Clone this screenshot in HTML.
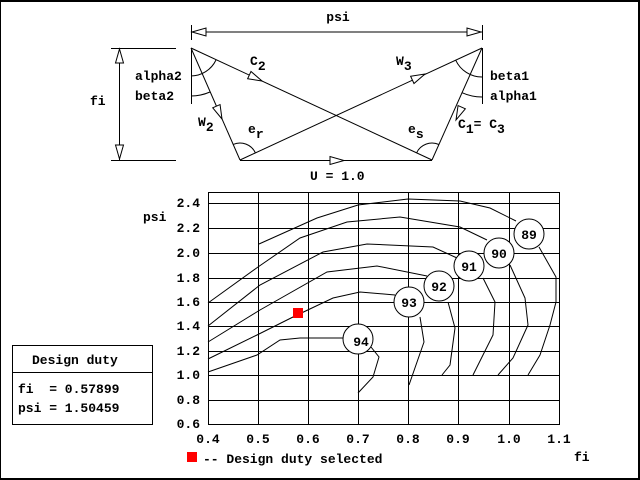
<!DOCTYPE html>
<html><head><meta charset="utf-8"><style>
html,body{margin:0;padding:0;background:#fff}
svg{display:block}
text{font-family:"Liberation Mono",monospace;font-weight:bold;font-size:13px;fill:#000;white-space:pre}
</style></head><body>
<svg id="s" width="640" height="480" viewBox="0 0 640 480" xmlns="http://www.w3.org/2000/svg" xml:space="preserve">
<rect x="0" y="0" width="640" height="480" fill="#fff"/>
<rect x="0" y="0" width="640" height="2" fill="#000"/>
<rect x="0" y="478" width="640" height="2" fill="#000"/>
<rect x="0" y="0" width="1" height="480" fill="#000"/>
<rect x="638" y="0" width="2" height="480" fill="#000"/>
<g stroke="#000" stroke-width="1" fill="none">
<line x1="191" y1="32" x2="482" y2="32"/>
<line x1="191.5" y1="25" x2="191.5" y2="40"/>
<line x1="482.5" y1="25" x2="482.5" y2="40"/>
<line x1="111" y1="48.5" x2="176" y2="48.5"/>
<line x1="111" y1="160.5" x2="176" y2="160.5"/>
<line x1="119.5" y1="48" x2="119.5" y2="160"/>
<line x1="191.5" y1="48" x2="191.5" y2="104"/>
<line x1="482.5" y1="48" x2="482.5" y2="104"/>
<line x1="191" y1="48" x2="240" y2="160"/>
<line x1="191" y1="48" x2="432" y2="160"/>
<line x1="482" y1="48" x2="240" y2="160"/>
<line x1="482" y1="48" x2="432" y2="160"/>
<line x1="240" y1="160.5" x2="432" y2="160.5"/>
<path d="M191,76 A28,28 0 0 0 216,60"/>
<path d="M191,96 A48,48 0 0 0 210,92"/>
<path d="M482,77 A29,29 0 0 1 455.7,60.2"/>
<path d="M482,97 A49,49 0 0 1 462,92.7"/>
<path d="M233.2,144.4 A17,17 0 0 1 255.4,152.9"/>
<path d="M416.6,152.8 A17,17 0 0 1 438.9,144.5"/>
</g>
<g id="arrows" stroke="#000" fill="#fff" stroke-width="1"></g>

<text x="338" y="21" text-anchor="middle">psi</text>
<text x="90" y="105">fi</text>
<text x="135" y="80">alpha2</text>
<text x="135" y="100">beta2</text>
<text x="490" y="80">beta1</text>
<text x="490" y="100">alpha1</text>
<text x="250" y="65">C<tspan dy="5">2</tspan></text>
<text x="396" y="65">W<tspan dy="5">3</tspan></text>
<text x="198" y="126">W<tspan dy="5">2</tspan></text>
<text x="248" y="133">e<tspan dy="5">r</tspan></text>
<text x="408" y="133">e<tspan dy="5">s</tspan></text>
<text x="458" y="128">C<tspan dy="5">1</tspan><tspan dy="-5">= C</tspan><tspan dy="5">3</tspan></text>
<text x="310" y="180">U = 1.0</text>

<g stroke="#000" stroke-width="1" fill="none">
<rect x="208.5" y="192.5" width="351" height="232"/>
<g id="grid"></g>
<polyline points="259,244 317,218 358,205 408,199 460,201 490,208 516,221"/>
<polyline points="539,247 556,277 556,302 550,325 540,355 528,375"/>
<polyline points="208,303 258,267 300,238 347,222 400,217 460,227 487,240"/>
<polyline points="510,265 525,298 528,325 513,358 498,375"/>
<polyline points="208,326 260,285 323,252 367,244 433,247 457,258"/>
<polyline points="483,278 495,302 493,335 473,375"/>
<polyline points="208,342 260,310 327,272 377,266 427,276"/>
<polyline points="448,302 455,328 450,365 442,375"/>
<polyline points="208,359 257,335 293,317 333,298 360,292 395,295"/>
<polyline points="420,317 424,342 409,385"/>
<polyline points="208,372 257,355 280,340 300,338 343,338"/>
<polyline points="371,347 379,357 373,377 358,393"/>
</g>
<g stroke="#000" fill="#fff">
<circle cx="529" cy="234" r="15"/>
<circle cx="499" cy="253" r="15"/>
<circle cx="469" cy="266" r="15"/>
<circle cx="439" cy="286" r="15"/>
<circle cx="409" cy="302" r="15"/>
<circle cx="358" cy="339" r="15"/>
</g>
<text x="529" y="239" text-anchor="middle">89</text>
<text x="499" y="258" text-anchor="middle">90</text>
<text x="469" y="271" text-anchor="middle">91</text>
<text x="439" y="291" text-anchor="middle">92</text>
<text x="409" y="307" text-anchor="middle">93</text>
<text x="361" y="346" text-anchor="middle">94</text>
<rect x="293" y="308" width="10" height="10" fill="#f00"/>

<g text-anchor="end">
<text x="200" y="207">2.4</text>
<text x="200" y="232">2.2</text>
<text x="200" y="257">2.0</text>
<text x="200" y="282">1.8</text>
<text x="200" y="306">1.6</text>
<text x="200" y="330">1.4</text>
<text x="200" y="355">1.2</text>
<text x="200" y="379">1.0</text>
<text x="200" y="404">0.8</text>
<text x="200" y="428">0.6</text>
</g>
<text x="143" y="221">psi</text>
<g text-anchor="middle">
<text x="208" y="443">0.4</text>
<text x="258" y="443">0.5</text>
<text x="308" y="443">0.6</text>
<text x="358" y="443">0.7</text>
<text x="408" y="443">0.8</text>
<text x="458" y="443">0.9</text>
<text x="509" y="443">1.0</text>
<text x="559" y="443">1.1</text>
</g>
<text x="574" y="461">fi</text>
<rect x="187" y="452" width="10" height="10" fill="#f00"/>
<text x="203" y="463">-- Design duty selected</text>

<rect x="12.5" y="345.5" width="140" height="79" fill="none" stroke="#000"/>
<line x1="12" y1="372.5" x2="152" y2="372.5" stroke="#000"/>
<text x="32" y="364">Design duty</text>
<text x="18" y="393">fi  = 0.57899</text>
<text x="18" y="412">psi = 1.50459</text>
</svg>
<script>
var ns="http://www.w3.org/2000/svg";
var g=document.getElementById('grid');
[258,308,358,408,458,509].forEach(function(x){var l=document.createElementNS(ns,'line');l.setAttribute('x1',x+.5);l.setAttribute('x2',x+.5);l.setAttribute('y1',192);l.setAttribute('y2',424);g.appendChild(l);});
[203,228,253,278,302,326,351,375,400].forEach(function(y){var l=document.createElementNS(ns,'line');l.setAttribute('y1',y+.5);l.setAttribute('y2',y+.5);l.setAttribute('x1',208);l.setAttribute('x2',559);g.appendChild(l);});
var a=document.getElementById('arrows');
function arr(tx,ty,dx,dy){var m=Math.hypot(dx,dy);dx/=m;dy/=m;var L=14,W=4;var bx=tx-dx*L,by=ty-dy*L;
var p=document.createElementNS(ns,'polygon');
p.setAttribute('points',tx+','+ty+' '+(bx-dy*W)+','+(by+dx*W)+' '+(bx+dy*W)+','+(by-dx*W));a.appendChild(p);}
arr(192,32,-1,0);arr(481,32,1,0);
arr(119.5,49,0,-1);arr(119.5,159,0,1);
arr(262,81,241,112);
arr(222,119,49,112);
arr(425,74,242,-112);
arr(456,120,-50,112);
arr(344,160.5,1,0);
</script>
</body></html>
